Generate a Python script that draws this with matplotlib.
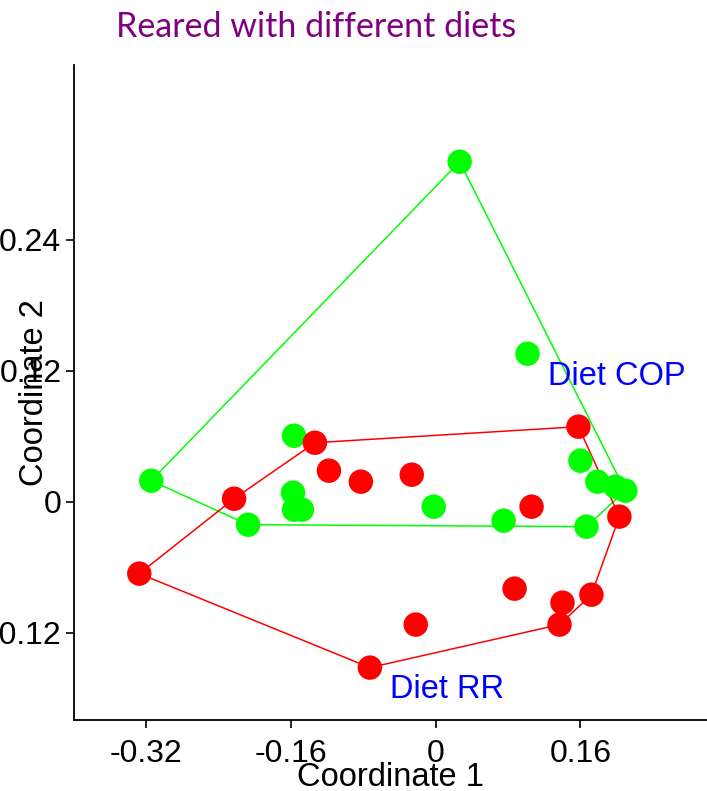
import matplotlib
matplotlib.use("Agg")
import matplotlib.pyplot as plt
import numpy as np

# Diet COP (green) coordinates
cop_x = [0.0265, 0.1015, -0.3146, -0.1567, -0.1578, -0.1567, -0.1479, -0.2075,
         -0.0022, 0.0751, 0.1667, 0.1600, 0.1788, 0.1987, 0.2097]
cop_y = [0.3114, 0.1355, 0.0192, 0.0604, 0.0082, -0.0073, -0.0073, -0.0211,
         -0.0046, -0.0174, -0.0229, 0.0375, 0.0183, 0.0137, 0.0101]

# Diet RR (red) coordinates
rr_x = [-0.1336, -0.1181, -0.0828, -0.0265, -0.2230, -0.3278, -0.0221, -0.0728,
        0.1578, 0.1060, 0.2031, 0.0872, 0.1402, 0.1722, 0.1369]
rr_y = [0.0540, 0.0284, 0.0183, 0.0247, 0.0027, -0.0659, -0.1126, -0.1520,
        0.0687, -0.0046, -0.0137, -0.0797, -0.0925, -0.0852, -0.1126]

x_ticks = [-0.32, -0.16, 0, 0.16]
x_tick_labels = ["-0.32", "-0.16", "0", "0.16"]
y_ticks = [-0.12, 0, 0.12, 0.24]
y_tick_labels = ["-0.12", "0", "0.12", "0.24"]

title = "Reared with different diets"


def convex_hull(xs, ys):
    pts = sorted(set(zip(xs, ys)))
    if len(pts) <= 2:
        return pts

    def cross(o, a, b):
        return (a[0] - o[0]) * (b[1] - o[1]) - (a[1] - o[1]) * (b[0] - o[0])

    lower = []
    for p in pts:
        while len(lower) >= 2 and cross(lower[-2], lower[-1], p) <= 0:
            lower.pop()
        lower.append(p)
    upper = []
    for p in reversed(pts):
        while len(upper) >= 2 and cross(upper[-2], upper[-1], p) <= 0:
            upper.pop()
        upper.append(p)
    return lower[:-1] + upper[:-1]


plt.rcParams['font.family'] = ['Liberation Sans', 'DejaVu Sans']

fig = plt.figure(figsize=(7.07, 7.91), dpi=100)
ax = fig.add_axes([74 / 707, 1 - 720 / 791, 1 - 74 / 707, (720 - 65) / 791])

green = "#00FF00"
red = "#FF0000"

for xs, ys, c in [(cop_x, cop_y, green), (rr_x, rr_y, red)]:
    hull = convex_hull(xs, ys)
    hx = [p[0] for p in hull] + [hull[0][0]]
    hy = [p[1] for p in hull] + [hull[0][1]]
    ax.plot(hx, hy, color=c, lw=1.1, zorder=2)

ax.scatter(cop_x, cop_y, s=310, color=green, edgecolors='none', zorder=3)
ax.scatter(rr_x, rr_y, s=310, color=red, edgecolors='none', zorder=4)

ax.text(0.2, 0.1145, "Diet COP", color="#0000FF", fontsize=23.5, ha='center', va='center', zorder=5)
ax.text(0.012, -0.172, "Diet RR", color="#0000FF", fontsize=23.5, ha='center', va='center', zorder=5)

ax.set_xlim(-0.40, 0.30)
ax.set_ylim(-0.20, 0.40)
ax.set_xticks(x_ticks)
ax.set_xticklabels(x_tick_labels)
ax.set_yticks(y_ticks)
ax.set_yticklabels(y_tick_labels)

for s in ['top', 'right']:
    ax.spines[s].set_visible(False)
for s in ['left', 'bottom']:
    ax.spines[s].set_linewidth(1.3)

ax.tick_params(axis='both', direction='out', length=6, width=1.2, labelsize=23, pad=3)
ax.tick_params(axis='x', pad=8)

ax.set_xlabel("Coordinate 1", fontsize=23.5, labelpad=-5)
ax.set_ylabel("Coordinate 2", fontsize=23.5, labelpad=-44)

fig.text(316 / 707, 1 - 27 / 791, title, color="#800080", fontsize=24.5,
         family=['Lato', 'DejaVu Sans'], ha='center', va='center')

fig.savefig("out.png", dpi=100)
